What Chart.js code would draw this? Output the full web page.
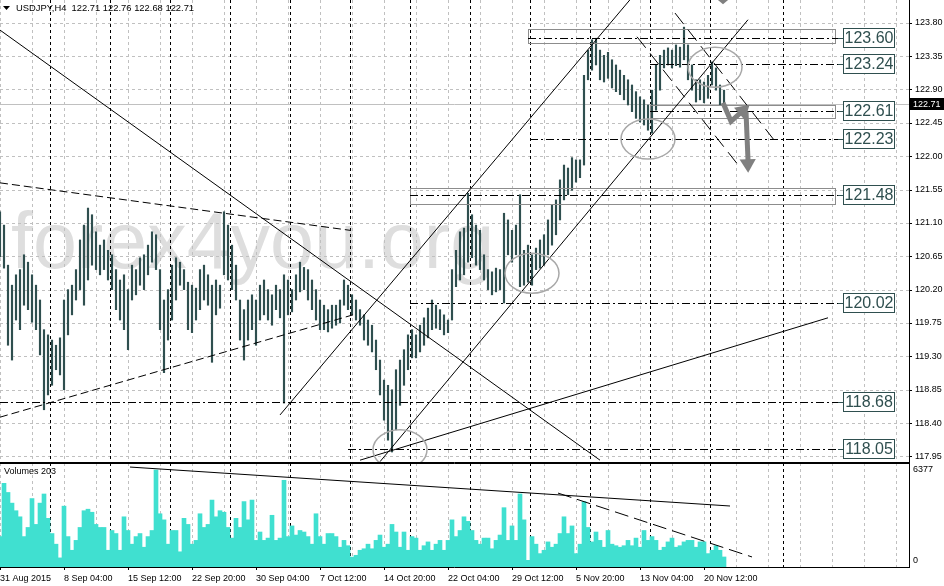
<!DOCTYPE html>
<html lang="en">
<head>
<meta charset="UTF-8">
<title>USDJPY,H4</title>
<script src="https://cdn.jsdelivr.net/npm/chart.js@4"></script>
<style>
  html, body { margin: 0; padding: 0; background: #fff; }
  #wrap { position: relative; width: 944px; height: 586px; overflow: hidden; background: #fff; }
  #priceChart { position: absolute; left: 0; top: 0; }
  #volChart { position: absolute; left: 0; top: 463px; }
</style>
</head>
<body>
<div id="wrap">
  <canvas id="priceChart" width="944" height="463"></canvas>
  <canvas id="volChart" width="944" height="123"></canvas>
</div>
<script>
  // one sample every 2 H4 bars
  const STEP = 2;

  const high = [
    121.25,121.07,120.53,120.26,120.40,120.47,120.67,120.57,120.40,120.26,
    120.06,119.66,119.59,119.52,119.45,119.55,120.06,120.20,120.26,120.47,
    120.87,121.07,121.30,121.21,120.98,120.80,120.87,120.73,120.67,120.47,
    120.33,120.40,120.20,120.53,120.47,120.63,120.67,120.80,120.98,120.94,
    120.47,120.06,120.20,120.53,120.63,120.57,120.47,120.30,120.26,120.22,
    120.47,120.53,120.40,120.26,120.33,120.26,121.25,121.07,120.80,120.53,
    120.06,119.93,120.06,120.13,120.06,120.26,120.33,120.20,120.13,120.26,
    120.20,120.40,120.33,120.20,120.40,120.57,120.50,120.47,120.33,120.20,
    120.06,119.99,119.93,119.99,119.99,120.06,120.33,120.26,120.13,120.06,
    119.93,119.86,119.79,119.72,119.52,119.25,118.98,118.91,118.85,119.12,
    119.25,119.39,119.59,119.66,119.59,119.72,119.82,119.95,120.06,119.99,
    119.93,119.86,119.79,120.47,120.73,120.98,121.03,121.50,121.21,121.07,
    121.00,120.67,120.47,120.44,120.49,120.47,121.23,121.14,121.00,121.07,
    121.48,120.73,120.80,120.67,120.76,120.87,120.94,121.14,121.34,121.41,
    121.68,121.88,121.84,121.98,121.95,121.95,123.09,123.43,123.57,123.59,
    123.43,123.36,123.40,123.30,123.23,123.16,123.09,123.03,122.96,122.87,
    122.80,122.76,122.69,122.89,123.23,123.36,123.43,123.46,123.43,123.50,
    123.47,123.74,123.50,123.23,123.03,123.03,123.00,123.09,123.27,123.19,
    122.96,122.89
  ];
  const low = [
    120.64,120.49,119.45,119.25,119.79,119.66,119.99,119.93,119.76,119.66,
    119.32,118.58,118.78,118.91,119.12,119.05,118.85,119.59,119.86,120.06,
    120.20,119.99,120.33,120.53,120.47,120.40,120.47,120.33,120.20,119.93,
    119.79,119.66,119.39,120.06,120.13,120.26,120.20,120.40,120.57,120.47,
    119.66,119.08,119.52,119.79,120.06,120.26,120.20,119.66,119.62,119.79,
    119.93,120.06,119.99,119.22,119.86,119.95,120.40,120.33,120.20,120.06,
    119.52,119.25,119.52,119.66,119.45,119.79,119.86,119.79,119.72,119.93,
    119.82,118.67,119.86,119.90,120.06,120.17,120.20,120.06,119.93,119.79,
    119.66,119.66,119.63,119.68,119.72,119.75,119.99,119.93,119.86,119.79,
    119.72,119.52,119.45,119.36,119.12,118.78,118.44,118.17,118.01,118.31,
    118.64,118.91,119.12,119.28,119.28,119.36,119.45,119.55,119.66,119.68,
    119.66,119.59,119.62,119.79,120.24,120.33,120.40,120.57,120.63,120.53,
    120.47,120.33,120.20,120.13,120.17,120.20,120.02,120.67,120.57,120.67,
    120.24,120.26,120.30,120.26,120.47,120.49,120.53,120.67,120.80,120.94,
    121.14,121.41,121.48,121.54,121.65,121.71,121.88,123.03,123.16,123.23,
    123.03,123.00,123.05,122.92,122.87,122.83,122.76,122.69,122.60,122.51,
    122.46,122.42,122.35,122.31,122.62,122.89,123.19,123.23,123.19,123.22,
    123.20,123.30,123.03,122.89,122.73,122.76,122.72,122.78,122.96,122.89,
    122.69,122.66
  ];
  const volume = [
    2000,5500,4900,4200,3700,3300,2000,2600,4500,2800,
    4200,4800,3200,2200,1500,600,4000,2000,1100,1750,
    2600,3700,3800,3600,2800,2600,2600,1100,2400,2200,
    1100,3300,2400,1500,2000,2200,1300,2000,2400,6377,
    3500,3100,1500,2400,2400,1000,3200,2800,1500,1750,
    3500,2600,2800,4400,3300,3700,3600,2600,1900,3200,
    2600,4300,3100,4400,1750,2300,1750,1900,3400,1750,
    1900,5700,2000,2700,2100,2400,2300,2000,1500,3500,
    2000,1500,2200,2200,2000,1300,1750,1400,650,770,
    1100,1200,1500,1200,1750,2100,1300,1500,2800,2300,
    1300,2300,1100,2000,1900,1100,1400,1650,1100,1500,
    1750,1100,1750,3100,2000,2400,3300,3000,2400,1750,
    1500,1900,1900,1200,1750,2100,3900,1750,2700,1750,
    4800,3100,440,2000,1500,880,1100,1650,1300,1500,
    2200,3300,2200,2700,880,1500,4300,2600,1650,2300,
    1750,1300,2400,1500,1400,1300,1400,1750,1400,1900,
    1300,2400,1750,2000,1750,1100,1300,1650,1900,1300,
    1400,1650,1750,1750,1300,1650,1650,880,1100,1400,
    1100,660
  ];

  const priceTicks = [123.80,123.35,122.90,122.45,122.00,121.55,121.10,120.65,120.20,119.75,119.30,118.85,118.40,117.95];
  const dateLabels = ['31 Aug 2015','8 Sep 04:00','15 Sep 12:00','22 Sep 20:00','30 Sep 04:00','7 Oct 12:00',
                      '14 Oct 20:00','22 Oct 04:00','29 Oct 12:00','5 Nov 20:00','13 Nov 04:00','20 Nov 12:00'];
  const dateTickBars = [0,32,64,96,128,160,192,224,256,288,320,352];
  const weekSeparators = [25,55,85,115,145,175,205,235,265,295,325,355,391.5];

  const BID = 122.71;
  const VOL_MAX_SHOWN = 6377;

  // horizontal levels: price, first bar, zone [top, bottom] or null
  const levels = [123.60, 123.24, 122.61, 122.23, 121.48, 120.02, 118.68, 118.05];
  const levelFrom = [264, 325, 325, 265, 205, 205, 0, 174];
  const levelZone = [[123.715,123.525], null, [122.69,122.51], null, [121.57,121.355], null, null, null];

  // trend lines [bar, price] -> [bar, price]
  const trendLines = [
    { a: [0, 123.70],     b: [300, 117.90],   dash: [] },
    { a: [0, 121.64],     b: [175, 121.00],   dash: [8, 4] },
    { a: [0, 118.48],     b: [176.5, 119.86], dash: [8, 4] },
    { a: [140, 118.51],   b: [315, 124.11],   dash: [] },
    { a: [190, 117.88],   b: [374, 123.84],   dash: [] },
    { a: [180, 117.90],   b: [414, 119.82],   dash: [] },
    { a: [318.5, 123.61], b: [370, 121.85],   dash: [14, 7] },
    { a: [337.5, 123.93], b: [389, 122.15],   dash: [14, 7] }
  ];
  const circles = [[200, 118.04], [266, 120.42], [324, 122.23], [357.5, 123.20]];
  const zigzag = [[361.5, 122.72], [365.5, 122.47], [373, 122.65]];
  const dropArrow = [[373, 122.60], [374, 121.84]];

  // trend lines in the volume window [bar, volume]
  const volLines = [
    { a: [65, 6570],  b: [365, 4010], dash: [] },
    { a: [279, 4860], b: [376, 660],  dash: [14, 6] }
  ];

  const FONT = '"Liberation Sans", Arial, sans-serif';
  const BAR_SPAN = 454.5;

  function line(ctx, x0, y0, x1, y1) {
    ctx.beginPath(); ctx.moveTo(x0, y0); ctx.lineTo(x1, y1); ctx.stroke();
  }
  function head(ctx, x0, y0, x1, y1, size) {
    const ang = Math.atan2(y1 - y0, x1 - x0);
    ctx.beginPath();
    ctx.moveTo(x1 + Math.cos(ang) * size * 0.4, y1 + Math.sin(ang) * size * 0.4);
    ctx.lineTo(x1 + Math.cos(ang + 2.4) * size, y1 + Math.sin(ang + 2.4) * size);
    ctx.lineTo(x1 + Math.cos(ang - 2.4) * size, y1 + Math.sin(ang - 2.4) * size);
    ctx.closePath(); ctx.fill();
  }
  function vGrid(ctx, x, top, bottom) {
    ctx.save();
    ctx.setLineDash([3, 3]);
    ctx.strokeStyle = '#c0c0c0';
    for (let b = 0; b <= BAR_SPAN; b += 16) {
      const px = Math.round(x.getPixelForValue(b)) + 0.5;
      line(ctx, px, top, px, bottom);
    }
    ctx.strokeStyle = '#000';
    weekSeparators.forEach(b => {
      const px = Math.round(x.getPixelForValue(b)) + 0.5;
      line(ctx, px, top, px, bottom);
    });
    ctx.restore();
  }
  // keep the plot area flush with the canvas edges
  function noPad(s) { s.paddingTop = 0; s.paddingBottom = 0; s.paddingLeft = 0; s.paddingRight = 0; }

  const priceOverlay = {
    id: 'priceOverlay',
    beforeDatasetsDraw(chart) {
      const { ctx, chartArea: a, scales: { x, y } } = chart;
      ctx.save();
      // watermark
      ctx.font = '79px ' + FONT;
      ctx.fillStyle = '#dedede';
      ctx.textBaseline = 'alphabetic';
      ctx.fillText('forex4you.org', 11, 268);
      // grid
      ctx.setLineDash([3, 3]);
      ctx.strokeStyle = '#c0c0c0';
      ctx.lineWidth = 1;
      priceTicks.forEach(v => {
        const py = Math.round(y.getPixelForValue(v)) + 0.5;
        line(ctx, a.left, py, a.right, py);
      });
      ctx.restore();
      vGrid(ctx, x, a.top, a.bottom);
      ctx.save();
      ctx.strokeStyle = '#c0c0c0';
      const by = Math.round(y.getPixelForValue(BID)) + 0.5;
      line(ctx, a.left, by, a.right, by);
      ctx.restore();
    },
    afterDatasetsDraw(chart) {
      const { ctx, chartArea: a, scales: { x, y } } = chart;
      const X = b => x.getPixelForValue(b);
      const Y = p => y.getPixelForValue(p);
      ctx.save();
      ctx.beginPath();
      ctx.rect(a.left, a.top, a.right - a.left, a.bottom - a.top);
      ctx.clip();
      ctx.lineWidth = 1;

      // zones and level lines
      const endBar = 419;
      levels.forEach((lv, i) => {
        const z = levelZone[i];
        if (z) {
          ctx.strokeStyle = '#8c8c8c';
          ctx.setLineDash([]);
          const t = Math.round(Y(z[0])) + 0.5, bt = Math.round(Y(z[1])) + 0.5;
          ctx.strokeRect(Math.round(X(levelFrom[i])) + 0.5, t, X(endBar - 1.5) - X(levelFrom[i]), bt - t);
        }
        ctx.strokeStyle = '#000';
        ctx.setLineDash([8, 3, 2, 3]);
        const py = Math.round(Y(lv)) + 0.5;
        line(ctx, X(levelFrom[i]), py, X(endBar), py);
        ctx.setLineDash([]);
        ctx.strokeStyle = '#2f4f4f';
        line(ctx, X(endBar), py, X(421.5), py);
      });

      // trend lines
      ctx.strokeStyle = '#000';
      trendLines.forEach(t => {
        ctx.setLineDash(t.dash);
        line(ctx, X(t.a[0]), Y(t.a[1]), X(t.b[0]), Y(t.b[1]));
      });
      ctx.setLineDash([]);

      // circles
      ctx.strokeStyle = '#a8a8a8';
      ctx.lineWidth = 1.5;
      circles.forEach(c => {
        ctx.beginPath();
        ctx.ellipse(X(c[0]), Y(c[1]), 27, 20, 0, 0, Math.PI * 2);
        ctx.stroke();
      });

      // arrows
      ctx.strokeStyle = '#808080';
      ctx.fillStyle = '#808080';
      ctx.lineWidth = 5;
      ctx.lineJoin = 'miter';
      ctx.beginPath();
      zigzag.forEach((p, i) => { i ? ctx.lineTo(X(p[0]), Y(p[1])) : ctx.moveTo(X(p[0]), Y(p[1])); });
      ctx.stroke();
      const z1 = zigzag[1], z2 = zigzag[2];
      head(ctx, X(z1[0]), Y(z1[1]), X(z2[0]), Y(z2[1]), 12);
      ctx.beginPath();
      ctx.moveTo(X(dropArrow[0][0]), Y(dropArrow[0][1]));
      ctx.lineTo(X(dropArrow[1][0]), Y(dropArrow[1][1]) - 8);
      ctx.stroke();
      head(ctx, X(dropArrow[0][0]), Y(dropArrow[0][1]), X(dropArrow[1][0]), Y(dropArrow[1][1]), 12);
      // partially visible arrow at the top edge
      ctx.beginPath();
      ctx.moveTo(X(356.5), Y(124.16));
      ctx.lineTo(X(366.5), Y(124.16));
      ctx.lineTo(X(361.5), Y(124.05));
      ctx.closePath(); ctx.fill();
      ctx.restore();

      // level labels
      ctx.save();
      ctx.font = '16px ' + FONT;
      ctx.textAlign = 'center';
      ctx.textBaseline = 'middle';
      levels.forEach(lv => {
        const py = Math.round(Y(lv));
        const bx = Math.round(X(421.5)) + 0.5, bw = Math.round(X(447) - X(421.5));
        ctx.fillStyle = '#fff';
        ctx.fillRect(bx, py - 9.5, bw, 19);
        ctx.strokeStyle = '#2f4f4f';
        ctx.lineWidth = 1;
        ctx.strokeRect(bx, py - 9.5, bw, 19);
        ctx.fillStyle = '#2f4f4f';
        ctx.fillText(lv.toFixed(2), bx + bw / 2, py + 1);
      });
      ctx.restore();

      // panel border, axis ticks, bid label, header
      ctx.save();
      ctx.strokeStyle = '#000';
      ctx.lineWidth = 1;
      line(ctx, a.left, a.bottom - 0.5, a.right, a.bottom - 0.5);
      priceTicks.forEach(v => {
        const py = Math.round(Y(v)) + 0.5;
        line(ctx, a.right, py, a.right + 3, py);
      });
      const by = Math.round(Y(BID));
      ctx.fillStyle = '#000';
      ctx.fillRect(a.right + 1, by - 6, 35, 12);
      ctx.fillStyle = '#fff';
      ctx.font = '9px ' + FONT;
      ctx.textBaseline = 'middle';
      ctx.fillText(BID.toFixed(2), a.right + 4, by + 0.5);

      ctx.fillStyle = '#000';
      ctx.beginPath();
      ctx.moveTo(3, 6); ctx.lineTo(10, 6); ctx.lineTo(6.5, 10); ctx.closePath(); ctx.fill();
      ctx.font = '9.4px ' + FONT;
      ctx.fillText('USDJPY,H4  122.71 122.76 122.68 122.71', 16, 8.5);
      ctx.restore();
    }
  };

  new Chart(document.getElementById('priceChart'), {
    type: 'bar',
    data: {
      datasets: [{
        data: high.map((h, i) => ({ x: i * STEP, y: [low[i], h] })),
        backgroundColor: '#2f4f4f',
        borderWidth: 0,
        barThickness: 1.5
      }]
    },
    options: {
      responsive: false,
      animation: false,
      devicePixelRatio: 1,
      layout: { padding: 0 },
      plugins: { legend: { display: false }, tooltip: { enabled: false } },
      scales: {
        x: { type: 'linear', min: 0, max: BAR_SPAN, offset: false, display: false },
        y: {
          position: 'right',
          min: 117.862,
          max: 124.106,
          grid: { display: false, drawTicks: false },
          border: { display: true, color: '#000' },
          afterBuildTicks: s => { s.ticks = priceTicks.map(v => ({ value: v })); },
          afterFit: s => { s.width = 35; noPad(s); },
          ticks: {
            autoSkip: false,
            padding: 6,
            color: '#000',
            font: { family: FONT, size: 9 },
            callback: v => Number(v).toFixed(2)
          }
        }
      }
    },
    plugins: [priceOverlay]
  });

  const volOverlay = {
    id: 'volOverlay',
    beforeDatasetsDraw(chart) {
      const { ctx, chartArea: a, scales: { x } } = chart;
      vGrid(ctx, x, a.top, a.bottom);
    },
    afterDatasetsDraw(chart) {
      const { ctx, chartArea: a, scales: { x, y } } = chart;
      const X = b => x.getPixelForValue(b);
      const Y = v => y.getPixelForValue(v);
      ctx.save();
      ctx.strokeStyle = '#000';
      ctx.lineWidth = 1;
      volLines.forEach(t => {
        ctx.setLineDash(t.dash);
        line(ctx, X(t.a[0]), Y(t.a[1]), X(t.b[0]), Y(t.b[1]));
      });
      ctx.setLineDash([]);
      line(ctx, a.left, a.top + 0.5, a.right, a.top + 0.5);
      line(ctx, a.left, a.bottom + 0.5, a.right, a.bottom + 0.5);
      dateTickBars.forEach(b => {
        const px = Math.round(X(b)) + 0.5;
        line(ctx, px, a.bottom, px, a.bottom + 3);
      });
      ctx.fillStyle = '#000';
      ctx.font = '9px ' + FONT;
      ctx.textBaseline = 'middle';
      ctx.fillText('Volumes 203', 4, 9);
      ctx.fillText(String(VOL_MAX_SHOWN), a.right + 4, Y(VOL_MAX_SHOWN));
      ctx.fillText('0', a.right + 4, a.bottom - 6);
      ctx.restore();
    }
  };

  new Chart(document.getElementById('volChart'), {
    type: 'bar',
    data: {
      datasets: [{
        data: volume.map((v, i) => ({ x: i * STEP, y: v })),
        backgroundColor: '#40e0d0',
        borderWidth: 0,
        barThickness: 4
      }]
    },
    options: {
      responsive: false,
      animation: false,
      devicePixelRatio: 1,
      layout: { padding: 0 },
      plugins: { legend: { display: false }, tooltip: { enabled: false } },
      scales: {
        x: {
          type: 'linear', min: 0, max: BAR_SPAN, offset: false,
          grid: { display: false, drawTicks: false },
          border: { display: false },
          afterBuildTicks: s => { s.ticks = dateTickBars.map(v => ({ value: v })); },
          afterFit: s => { s.height = 19; noPad(s); },
          ticks: {
            autoSkip: false,
            maxRotation: 0,
            align: 'start',
            padding: 6,
            color: '#000',
            font: { family: FONT, size: 9 },
            callback: (v, i) => dateLabels[i]
          }
        },
        y: {
          position: 'right',
          min: 0,
          max: 6837,
          grid: { display: false, drawTicks: false },
          border: { display: true, color: '#000' },
          ticks: { display: false },
          afterFit: s => { s.width = 35; noPad(s); }
        }
      }
    },
    plugins: [volOverlay]
  });
</script>
</body>
</html>
